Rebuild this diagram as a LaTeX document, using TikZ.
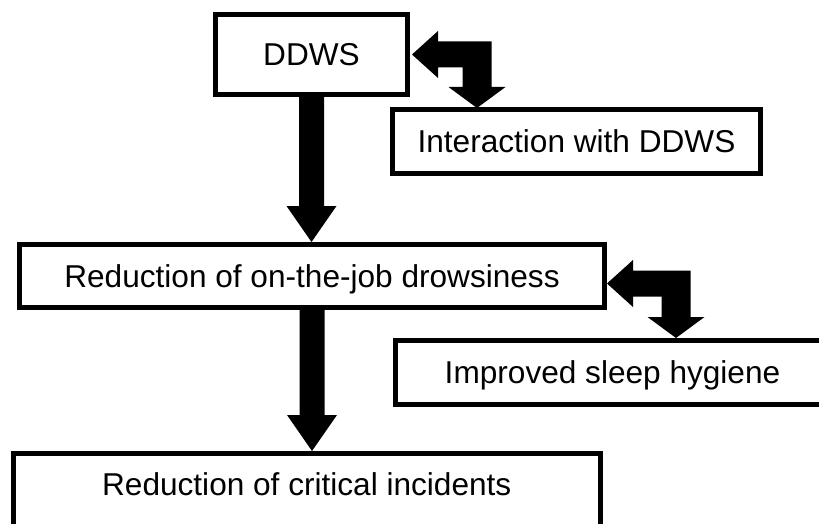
\documentclass[tikz,border=0pt]{standalone}
\usepackage{fontspec}
\setmainfont{Liberation Sans}
\usetikzlibrary{calc}
\tikzset{
  box/.style={draw=black, line width=5pt, fill=white, rectangle, outer sep=0pt, inner sep=0pt,
    font=\fontsize{31.6}{38}\selectfont, text height=22.6pt, text depth=0pt},
  lbl/.style={inner sep=0pt, outer sep=0pt, font=\fontsize{31.6}{38}\selectfont, text height=22.6pt, text depth=0pt},
  fatarrow/.style={fill=black, draw=none}
}
\newcommand\myDownArrow[2]{%
  \path[fatarrow] let \p1=(#1), \p2=(#2) in
    (\x1-12.5pt,\y1) -- (\x1+12.5pt,\y1) -- (\x1+12.5pt,\y2+36pt) -- (\x1+25pt,\y2+36pt)
    -- (\x1,\y2) -- (\x1-25pt,\y2+36pt) -- (\x1-12.5pt,\y2+36pt) -- cycle;}
\newcommand\myBentArrow[2]{%
  \path[fatarrow] let \p1=(#1), \p2=(#2) in
    (\x1,\y1) -- (\x1+26pt,\y1+23.5pt) -- (\x1+26pt,\y1+13pt) -- (\x2+14.5pt,\y1+13pt)
    -- (\x2+14.5pt,\y2+21pt) -- (\x2+28.5pt,\y2+21pt) -- (\x2,\y2) -- (\x2-28.5pt,\y2+21pt)
    -- (\x2-14.5pt,\y2+21pt) -- (\x2-14.5pt,\y1-13pt) -- (\x1+26pt,\y1-13pt)
    -- (\x1+26pt,\y1-23.5pt) -- cycle;}
\begin{document}
\begin{tikzpicture}[x=1pt, y=-1pt]
\useasboundingbox (0,0) rectangle (819,524);
\clip (0,0) rectangle (819,524);
\fill[white] (0,0) rectangle (819,524);

\node[box, minimum width=192pt, minimum height=80pt] (ddws) at (311.5,54.5) {DDWS};
\node[box, minimum width=368pt, minimum height=64pt] (inter) at (576.5,141.5) {Interaction with DDWS};
\node[box, minimum width=585pt, minimum height=63pt] (drow) at (312,276) {Reduction of on-the-job drowsiness};
\node[box, minimum width=434pt, minimum height=63.5pt] (sleep) at (612.5,372.25) {Improved sleep hygiene};
\node[box, minimum width=587.5pt, minimum height=76.5pt] (crit) at (306.75,491.75) {};
\node[lbl] (critlabel) at (306.75,484) {Reduction of critical incidents};

\coordinate (tipA) at ($(drow.north)+(-0.5,-2.5)$);
\coordinate (tipB) at ($(crit.north)+(5.25,-2.5)$);
\myDownArrow{ddws.south}{tipA}
\myDownArrow{drow.south}{tipB}

\coordinate (t1) at ($(ddws.east)+(4.5,0)$);
\coordinate (d1) at ($(inter.north west)+(84.5,-1.5)$);
\coordinate (t2) at ($(drow.east)+(2.5,7.5)$);
\coordinate (d2) at ($(sleep.north west)+(280.5,-2.5)$);
\myBentArrow{t1}{d1}
\myBentArrow{t2}{d2}
\end{tikzpicture}
\end{document}
